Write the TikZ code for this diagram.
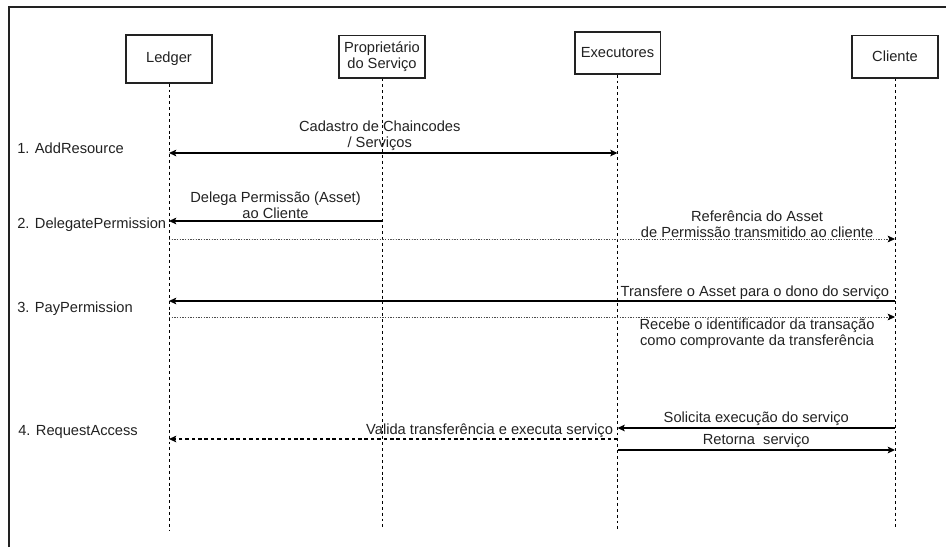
\documentclass[tikz,border=0pt]{standalone}
\usepackage{fontspec}
\setmainfont{Liberation Sans}
\usetikzlibrary{arrows.meta, positioning}
\definecolor{txtG}{HTML}{222222}
\tikzset{
    actorB/.style={draw=txtG, line width=1pt, fill=white, align=center,
        minimum width=64.5pt, inner sep=0pt},
    lifeL/.style={draw=black, line width=0.6pt, dash pattern=on 2.2pt off 2.2pt},
    msgS/.style={draw=black, line width=0.9pt, -{Stealth[length=5.5pt,width=5pt,inset=1.2pt]}},
    msgR/.style={draw=black!70, line width=0.5pt, dash pattern=on 1pt off 1pt,
        -{Stealth[black,length=5.5pt,width=5pt,inset=1.2pt]}},
    msgD/.style={draw=black, line width=0.8pt, dash pattern=on 2.6pt off 2.2pt,
        -{Stealth[length=5.5pt,width=5pt,inset=1.2pt]}},
    stepL/.style={anchor=west, inner sep=0pt},
    labM/.style={align=center, inner sep=1pt}
}
\begin{document}
\begin{tikzpicture}[x=0.75pt, y=-0.75pt]
    \def \yA {153}
    \def \yB {221}
    \def \yC {239}
    \def \yD {301}
    \def \yE {317}
    \def \yF {428}
    \def \yG {439}
    \def \yH {450}
    \tikzstyle{every node}=[text=txtG, font=\fontsize{11}{12}\selectfont];
    \useasboundingbox (0,0) rectangle (946,547);
    % frame
    \draw[txtG, line width=0.8pt] (9,547) -- (9,7) -- (946,7);
    % actors
    \node[actorB, minimum height=36pt] (ledger) at (169,59) {Ledger};
    \node[actorB, minimum height=32pt] (prop) at (382,56.5) {Proprietário\\do Serviço};
    \node[actorB, minimum height=31.5pt, minimum width=64pt] (exec) at (617.5,53) {Executores};
    \node[actorB, minimum height=32pt] (client) at (895,56.5) {Cliente};
    \coordinate (bot) at (0,530);
    \draw[lifeL] (ledger.south) -- (ledger.south |- bot);
    \draw[lifeL] (prop.south) -- (prop.south |- bot);
    \draw[lifeL] (exec.south) -- (exec.south |- bot);
    \draw[lifeL] (client.south) -- (client.south |- bot);
    % steps
    \node[stepL] (s1) at (17,148) {1. AddResource};
    \node[stepL] (s2) at (17,225) {2. DelegatePermission};
    \node[stepL] (s3) at (17,309) {3. PayPermission};
    \node[stepL] (s4) at (18,432) {4. RequestAccess};
    % messages
    \coordinate (mA) at (0,\yA);
    \coordinate (mB) at (0,\yB);
    \coordinate (mC) at (0,\yC);
    \coordinate (mD) at (0,\yD);
    \coordinate (mE) at (0,\yE);
    \coordinate (mF) at (0,\yF);
    \coordinate (mG) at (0,\yG);
    \coordinate (mH) at (0,\yH);
    \draw[msgS, {Stealth[length=5.5pt,width=5pt,inset=1.2pt]}-{Stealth[length=5.5pt,width=5pt,inset=1.2pt]}]
        (ledger |- mA) -- (exec |- mA)
        node[labM, pos=0.47, above] {Cadastro de Chaincodes\\/ Serviços};
    \draw[msgS] (prop |- mB) -- (ledger |- mB)
        node[labM, pos=0.5, above] {Delega Permissão (Asset)\\ao Cliente};
    \draw[msgR] (ledger |- mC) -- (client |- mC)
        node[labM, pos=0.81, above] {Referência do Asset\\de Permissão transmitido ao cliente};
    \draw[msgS] (client |- mD) -- (ledger |- mD)
        node[labM, pos=0.193, above, inner sep=0.5pt] {Transfere o Asset para o dono do serviço};
    \draw[msgR] (ledger |- mE) -- (client |- mE)
        node[labM, pos=0.81, below] {Recebe o identificador da transação\\como comprovante da transferência};
    \draw[msgS] (client |- mF) -- (exec |- mF)
        node[labM, midway, above] {Solicita execução do serviço};
    \draw[msgD] (exec |- mG) -- (ledger |- mG)
        node[labM, at start, above left, xshift=-2pt] {Valida transferência e executa serviço};
    \draw[msgS] (exec |- mH) -- (client |- mH)
        node[labM, midway, above] {Retorna~ serviço};
\end{tikzpicture}
\end{document}
